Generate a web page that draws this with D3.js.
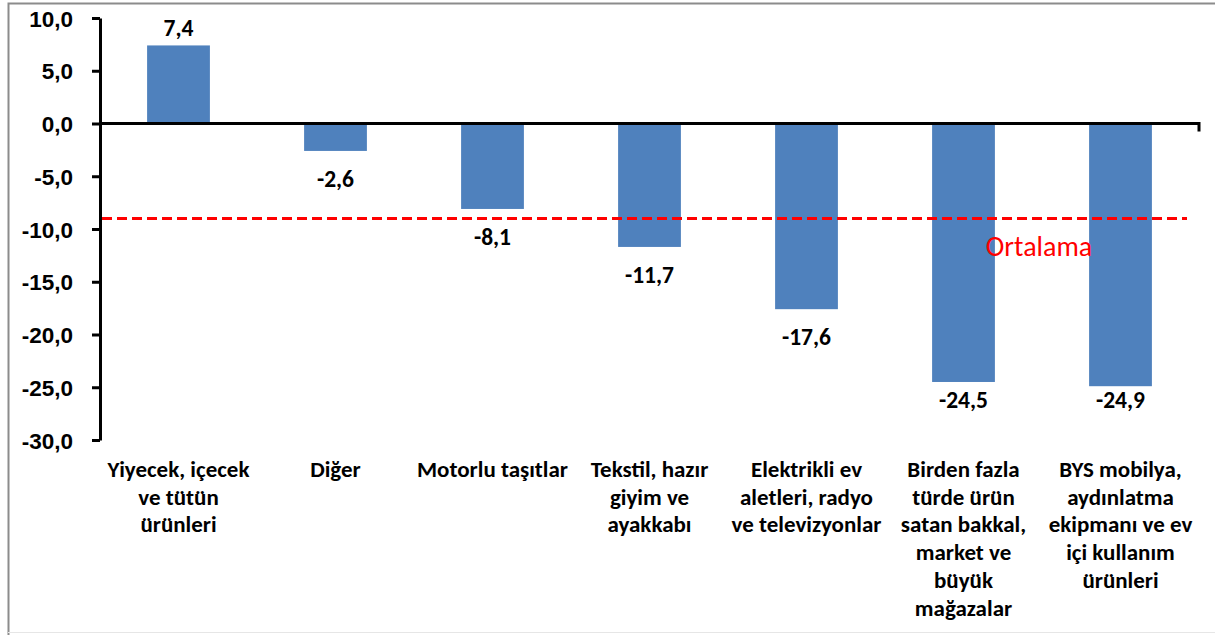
<!DOCTYPE html>
<html>
<head>
<meta charset="utf-8">
<script src="https://cdn.jsdelivr.net/npm/d3@7"></script>
<style>
  body { margin: 0; background: #fff; }
  svg { display: block; font-family: Calibri, Carlito, "Open Sans", Lato, sans-serif; }
</style>
</head>
<body>
<div id="chart"></div>
<script>
// categories and values
const categories = [
    "Yiyecek, içecek ve tütün ürünleri",
    "Diğer",
    "Motorlu taşıtlar",
    "Tekstil, hazır giyim ve ayakkabı",
    "Elektrikli ev aletleri, radyo ve televizyonlar",
    "Birden fazla türde ürün satan bakkal, market ve büyük mağazalar",
    "BYS mobilya, aydınlatma ekipmanı ve ev içi kullanım ürünleri"
];
// label lines as they wrap in the original
const categoryLines = [
    ["Yiyecek, içecek", "ve tütün", "ürünleri"],
    ["Diğer"],
    ["Motorlu taşıtlar"],
    ["Tekstil, hazır", "giyim ve", "ayakkabı"],
    ["Elektrikli ev", "aletleri, radyo", "ve televizyonlar"],
    ["Birden fazla", "türde ürün", "satan bakkal,", "market ve", "büyük", "mağazalar"],
    ["BYS mobilya,", "aydınlatma", "ekipmanı ve ev", "içi kullanım", "ürünleri"]
];
const values = [7.4, -2.6, -8.1, -11.7, -17.6, -24.5, -24.9];
const average = -9.0;
const averageLabel = "Ortalama";
const yTicks = [10, 5, 0, -5, -10, -15, -20, -25, -30];

const width = 1215, height = 635;
const margin = { top: 18, right: 16, bottom: 195, left: 100 };

const svg = d3.select("#chart").append("svg")
    .attr("width", width)
    .attr("height", height);

// outer frame
svg.append("path")
    .attr("d", `M8.5,${height}V3.5H${width}`)
    .attr("fill", "none")
    .attr("stroke", "#8c8c8c")
    .attr("stroke-width", 2);
svg.append("line")
    .attr("x1", 8).attr("x2", width)
    .attr("y1", height - 2.5).attr("y2", height - 2.5)
    .attr("stroke", "#e6e6e6").attr("stroke-width", 1);

const x = d3.scaleBand()
    .domain(categories)
    .range([margin.left, width - margin.right])
    .paddingInner(0.6)
    .paddingOuter(0.3);

const y = d3.scaleLinear()
    .domain([-30, 10])
    .range([height - margin.bottom, margin.top]);

const fmt = v => d3.format(".1f")(v).replace(".", ",").replace("−", "-");

// bars
svg.selectAll("rect.bar")
    .data(values)
    .join("rect")
    .attr("class", "bar")
    .attr("x", (d, i) => x(categories[i]))
    .attr("width", x.bandwidth())
    .attr("y", d => y(Math.max(0, d)))
    .attr("height", d => Math.abs(y(d) - y(0)))
    .attr("fill", "#4F81BD");

// y axis
const yAxis = svg.append("g")
    .attr("transform", `translate(${margin.left},0)`)
    .call(d3.axisLeft(y).tickValues(yTicks).tickSize(8).tickSizeOuter(0).tickFormat(fmt));
yAxis.select(".domain").attr("stroke", "#000").attr("stroke-width", 3);
yAxis.selectAll(".tick line").attr("stroke", "#000").attr("stroke-width", 3);
yAxis.selectAll(".tick text")
    .attr("x", -27)
    .attr("dy", "0.36em")
    .attr("font-size", 22.5)
    .attr("font-weight", "bold")
    .attr("fill", "#000");

// zero line
svg.append("path")
    .attr("d", `M${margin.left},${y(0)}H${width - margin.right}V${y(0) + 8}`)
    .attr("fill", "none")
    .attr("stroke", "#000")
    .attr("stroke-width", 3);

// value labels (kept inside the plot area at the bottom, as Excel does)
svg.selectAll("text.value")
    .data(values)
    .join("text")
    .attr("class", "value")
    .attr("x", (d, i) => x(categories[i]) + x.bandwidth() / 2)
    .attr("y", d => d >= 0 ? y(d) - 9 : Math.min(y(d) + 36, 408))
    .attr("text-anchor", "middle")
    .attr("font-size", 23.5)
    .attr("font-weight", "bold")
    .attr("fill", "#000")
    .text(fmt);

// average line
svg.append("line")
    .attr("x1", margin.left + 2)
    .attr("x2", 1187)
    .attr("y1", y(average))
    .attr("y2", y(average))
    .attr("stroke", "#FF0000")
    .attr("stroke-width", 3)
    .attr("stroke-dasharray", "10,5");

svg.append("text")
    .attr("x", (x(categories[5]) + x.bandwidth() + x(categories[6])) / 2 - 3)
    .attr("y", y(average) + 38)
    .attr("text-anchor", "middle")
    .attr("font-size", 28)
    .attr("fill", "#FF0000")
    .text(averageLabel);

// category labels
const catG = svg.selectAll("g.cat")
    .data(categoryLines)
    .join("g")
    .attr("class", "cat")
    .attr("transform", (d, i) => `translate(${x(categories[i]) + x.bandwidth() / 2},${y(-30) + 37})`);

catG.selectAll("text")
    .data(d => d)
    .join("text")
    .attr("y", (d, j) => j * 27.7)
    .attr("text-anchor", "middle")
    .attr("font-size", 23)
    .attr("font-weight", "bold")
    .attr("fill", "#000")
    .text(d => d);
</script>
</body>
</html>
